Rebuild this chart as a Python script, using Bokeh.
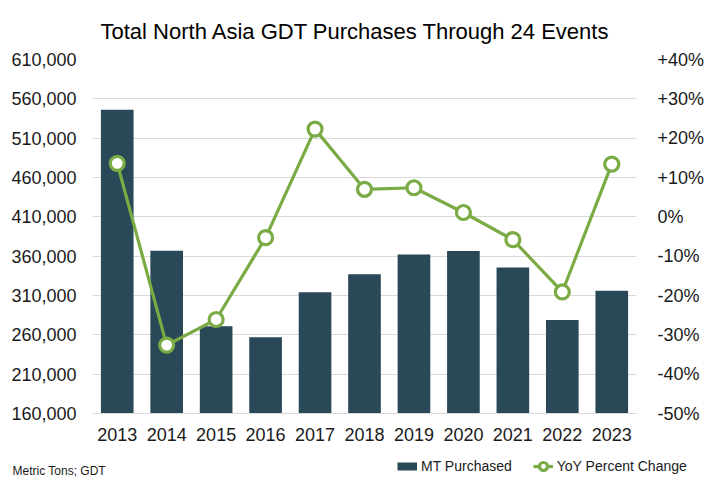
from bokeh.plotting import figure
from bokeh.models import (ColumnDataSource, Range1d, LinearAxis, FixedTicker,
                          Legend, LegendItem, FactorRange, Label)
from bokeh.embed import file_html
from bokeh.resources import INLINE

# ---- data ----
years = ["2013", "2014", "2015", "2016", "2017", "2018", "2019", "2020", "2021", "2022", "2023"]
mt_purchased = [546000, 367000, 271000, 257000, 314000, 337000, 362000, 366500, 345500, 279000, 316000]
yoy_pct = [13.6, -32.6, -26.1, -5.3, 22.3, 7.0, 7.4, 1.1, -5.8, -19.1, 13.4]

left_ticks = [160000, 210000, 260000, 310000, 360000, 410000, 460000, 510000, 560000, 610000]
left_tick_labels = ["160,000", "210,000", "260,000", "310,000", "360,000",
                    "410,000", "460,000", "510,000", "560,000", "610,000"]
right_ticks = [-50, -40, -30, -20, -10, 0, 10, 20, 30, 40]
right_tick_labels = ["-50%", "-40%", "-30%", "-20%", "-10%", "0%", "+10%", "+20%", "+30%", "+40%"]

title_text = "Total North Asia GDT Purchases Through 24 Events"
source_text = "Metric Tons; GDT"
bar_name = "MT Purchased"
line_name = "YoY Percent Change"

BAR_COLOR = "#294858"
LINE_COLOR = "#7AAB45"
GRID_COLOR = "#D9D9D9"
TEXT_COLOR = "#1a1a1a"
FONT = "Liberation Sans"
TICK_SIZE = "18px"

src = ColumnDataSource(dict(year=years, mt=mt_purchased, yoy=yoy_pct))

# ---------------- main chart ----------------
p = figure(width=707, height=447, x_range=FactorRange(*years),
           y_range=Range1d(left_ticks[0], left_ticks[-1]),
           output_backend="svg", toolbar_location=None,
           min_border_left=92, min_border_right=64,
           min_border_top=59, min_border_bottom=34)
p.extra_y_ranges = {"pct": Range1d(right_ticks[0], right_ticks[-1])}
p.outline_line_color = None
p.background_fill_color = "white"
p.border_fill_color = "white"

bars = p.vbar(x="year", top="mt", bottom=left_ticks[0], width=0.66, source=src,
              fill_color=BAR_COLOR, line_color=None)
ln = p.line(x="year", y="yoy", source=src, y_range_name="pct",
            line_color=LINE_COLOR, line_width=3.2)
pts = p.scatter(x="year", y="yoy", source=src, y_range_name="pct", size=14,
                fill_color="white", line_color=LINE_COLOR, line_width=3.2)

p.xgrid.grid_line_color = None
p.ygrid.grid_line_color = GRID_COLOR
p.ygrid.grid_line_width = 1

la = p.yaxis[0]
la.ticker = FixedTicker(ticks=left_ticks)
la.major_label_overrides = dict(zip(left_ticks, left_tick_labels))
la.axis_line_color = None
la.major_tick_line_color = None
la.minor_tick_line_color = None
la.major_label_standoff = 10
la.major_label_text_font = FONT
la.major_label_text_font_size = TICK_SIZE
la.major_label_text_color = TEXT_COLOR

ra = LinearAxis(y_range_name="pct", ticker=FixedTicker(ticks=right_ticks))
ra.major_label_overrides = dict(zip(right_ticks, right_tick_labels))
ra.axis_line_color = None
ra.major_tick_line_color = None
ra.minor_tick_line_color = None
ra.major_label_standoff = 15
ra.major_label_text_font = FONT
ra.major_label_text_font_size = TICK_SIZE
ra.major_label_text_color = TEXT_COLOR
p.add_layout(ra, "right")

xa = p.xaxis[0]
xa.axis_line_color = GRID_COLOR
xa.axis_line_width = 1
xa.major_tick_line_color = None
xa.minor_tick_line_color = None
xa.major_label_standoff = 8
xa.major_label_text_font = FONT
xa.major_label_text_font_size = TICK_SIZE
xa.major_label_text_color = TEXT_COLOR

p.title.text = title_text
p.title.align = "left"
p.title.offset = 8
p.title.standoff = 32
p.title.text_font = FONT
p.title.text_font_size = "22px"
p.title.text_font_style = "normal"
p.title.text_color = "black"

# ---------------- footer: source note + legend ----------------
f = figure(width=707, height=32, x_range=Range1d(0, 1), y_range=Range1d(0, 1),
           x_axis_type=None, y_axis_type=None,
           output_backend="svg", toolbar_location=None,
           min_border_left=0, min_border_right=0, min_border_top=0, min_border_bottom=0)
f.outline_line_color = None
f.xgrid.visible = False
f.ygrid.visible = False
f.background_fill_color = "white"
f.border_fill_color = "white"

# key-only renderers (a single undefined point, nothing is drawn in the plot area)
key_src = ColumnDataSource(dict(x=[float("nan")], y=[float("nan")]))
key_bar = f.line(x="x", y="y", source=key_src, line_color=BAR_COLOR, line_width=8)
key_line = f.line(x="x", y="y", source=key_src, line_color=LINE_COLOR, line_width=3.2)
key_pts = f.scatter(x="x", y="y", source=key_src, size=9, fill_color="white",
                    line_color=LINE_COLOR, line_width=3.2)

f.add_layout(Label(x=12, y=8.5, x_units="screen", y_units="screen", text=source_text,
                   text_align="left", text_baseline="alphabetic",
                   text_font=FONT, text_font_size="12px", text_color=TEXT_COLOR))

leg = Legend(items=[LegendItem(label=bar_name, renderers=[key_bar]),
                    LegendItem(label=line_name, renderers=[key_line, key_pts])],
             location=(397, 3), orientation="horizontal",
             glyph_width=20, glyph_height=20, label_standoff=4, spacing=21,
             label_height=14,
             padding=0, margin=0, border_line_color=None, background_fill_alpha=0,
             label_text_font=FONT, label_text_font_size="14px", label_text_color=TEXT_COLOR)
f.add_layout(leg, "center")

open("out.html", "w").write(file_html([p, f], INLINE))
